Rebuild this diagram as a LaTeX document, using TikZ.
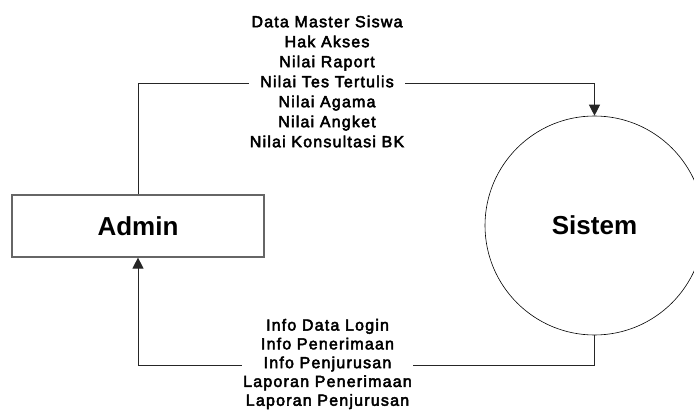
\documentclass[tikz,border=0pt]{standalone}
\usepackage{fontspec}
\setmainfont{Liberation Sans}
\newfontfamily\flowfont[FakeBold=3,LetterSpace=7.5]{Liberation Sans}
\usetikzlibrary{arrows.meta}
\tikzset{
  entity/.style={draw=black!60, line width=1.2pt, minimum width=252pt,
    minimum height=62pt, inner sep=0pt, font=\bfseries\fontsize{26}{30}\selectfont},
  process/.style={draw=black, line width=0.6pt, circle, minimum size=219pt,
    inner sep=0pt, font=\bfseries\fontsize{26}{30}\selectfont},
  flow/.style={draw=black!85, line width=1pt,
    -{Triangle[width=11pt,length=11pt]}},
  flowlabel/.style={fill=white, align=center, inner xsep=1pt, inner ysep=0pt,
    text=black}
}
\begin{document}
\begin{tikzpicture}[x=1pt, y=-1pt]
  \useasboundingbox (0,0) rectangle (694,417);

  % external entity and process
  \node[entity] (admin) at (138,226) {Admin};
  \node[process] (sistem) at (594.5,225.5) {Sistem};

  % data flows
  \draw[flow] (admin.north) -- ++(0,-111) -| (sistem.north);
  \draw[flow] (sistem.south) -- ++(0,30.5) -| (admin.south);

  % flow labels
  \node[flowlabel, font=\flowfont\fontsize{16}{20}\selectfont] (lblin) at (327,81.5)
    {Data Master Siswa\\Hak Akses\\Nilai Raport\\Nilai Tes Tertulis\\Nilai Agama\\Nilai Angket\\Nilai Konsultasi BK};
  \node[flowlabel, font=\flowfont\fontsize{16}{18.8}\selectfont] (lblout) at (327.5,364)
    {Info Data Login\\Info Penerimaan\\Info Penjurusan\\Laporan Penerimaan\\Laporan Penjurusan};
\end{tikzpicture}
\end{document}
